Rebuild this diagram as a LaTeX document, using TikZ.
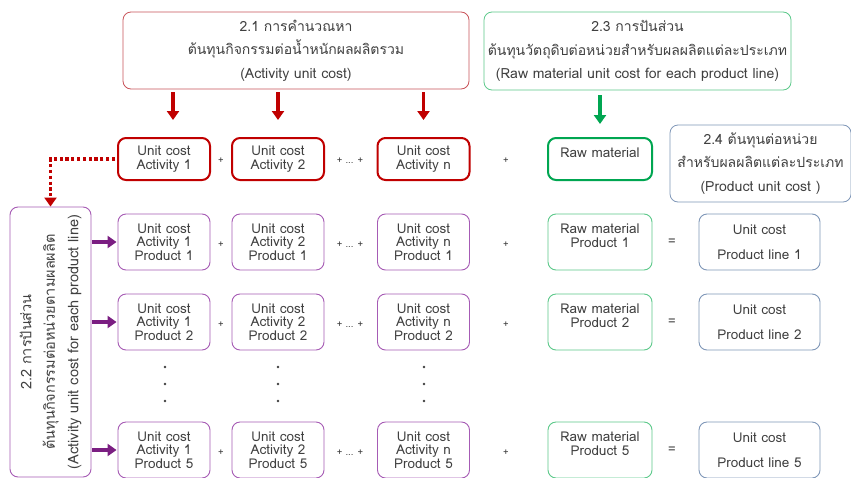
\documentclass[tikz,border=0pt]{standalone}
\usepackage{fontspec}
\setmainfont[Script=Thai]{Loma}
\usetikzlibrary{arrows.meta}
\definecolor{txt}{HTML}{404040}
\definecolor{redl}{HTML}{C9545A}
\definecolor{redd}{HTML}{C00000}
\definecolor{grd}{HTML}{00A651}
\definecolor{grl}{HTML}{5CC98A}
\definecolor{purp}{HTML}{A65BB5}
\definecolor{purd}{HTML}{7B1E82}
\definecolor{blg}{HTML}{7F97B8}
\begin{document}
\begin{tikzpicture}[x=1pt,y=-1pt,
  base/.style={rounded corners=8, align=center, text=txt, inner sep=0pt},
  topbox/.style={base, line width=0.8pt, font=\fontsize{14}{23.5}\selectfont},
  actbox/.style={base, draw=redd, line width=2pt, minimum width=92, minimum height=42, font=\fontsize{13.5}{14}\selectfont},
  rawbox/.style={base, draw=grd, line width=2pt, minimum width=104, minimum height=42, font=\fontsize{13.5}{14}\selectfont},
  prodbox/.style={base, draw=purp, line width=0.9pt, minimum width=92, minimum height=56, font=\fontsize{13.5}{13.6}\selectfont},
  rawpbox/.style={base, draw=grl, line width=0.9pt, minimum width=104, minimum height=56, font=\fontsize{13.5}{14.5}\selectfont},
  linebox/.style={base, draw=blg, line width=0.9pt, minimum width=121, minimum height=56, font=\fontsize{13.5}{25}\selectfont},
  op/.style={text=txt, font=\fontsize{9.5}{10}\selectfont, inner sep=0pt},
  redarr/.style={draw=redd, line width=3.5pt, -{Triangle[length=9pt,width=12pt]}},
  grnarr/.style={draw=grd, line width=3.5pt, -{Triangle[length=9pt,width=12pt]}},
  purarr/.style={draw=purd, line width=3.5pt, -{Triangle[length=9pt,width=12pt]}},
  dotarr/.style={draw=redd, line width=3.2pt, dash pattern=on 3.2pt off 2.6pt, -{Triangle[length=9pt,width=12pt]}},
  dotc/.style={fill=txt}
]
\useasboundingbox (0,0) rectangle (851,477);
\clip (0,0) rectangle (851,477);
\fill[white] (0,0) rectangle (851,477);

% top boxes
\node[topbox, draw=redl, minimum width=346, minimum height=77] (t21) at (296,50.5)
  {2.1 การคำนวณหา\\ต้นทุนกิจกรรมต่อน้ำหนักผลผลิตรวม\\(Activity unit cost)};
\node[topbox, draw=grl, minimum width=307, minimum height=78] (t23) at (637.5,51)
  {2.3 การปันส่วน\\ต้นทุนวัตถุดิบต่อหน่วยสำหรับผลผลิตแต่ละประเภท\\(Raw material unit cost for each product line)};
\node[topbox, draw=blg, minimum width=181, minimum height=77] (t24) at (760.5,163.5)
  {2.4 ต้นทุนต่อหน่วย\\สำหรับผลผลิตแต่ละประเภท\\(Product unit cost )};

% left box
\node[base, draw=purp, line width=0.9pt, minimum width=81, minimum height=270] (b22) at (50.5,342) {};
\node[rotate=90, align=center, text=txt, font=\fontsize{14.5}{23.5}\selectfont] (b22t) at (b22.center)
  {2.2 การปันส่วน\\ต้นทุนกิจกรรมต่อหน่วยตามผลผลิต\\(Activity unit cost for each product line)};

% row 1
\node[actbox] (a1) at (164,159) {Unit cost\\Activity 1};
\node[actbox] (a2) at (278,159) {Unit cost\\Activity 2};
\node[actbox] (an) at (423.5,159) {Unit cost\\Activity n};
\node[rawbox] (rm) at (600,159) {Raw material\\[-2pt]\mbox{}};
\node[op] (o11) at (221,161) {+};
\node[op] (o12) at (350,161) {+ ... +};
\node[op] (o13) at (506,161) {+};

% product rows
\foreach \r/\y in {1/242,2/322,5/450}{
  \node[prodbox] (p\r a) at (164,\y) {Unit cost\\Activity 1\\Product \r};
  \node[prodbox] (p\r b) at (278,\y) {Unit cost\\Activity 2\\Product \r};
  \node[prodbox] (p\r n) at (423.5,\y) {Unit cost\\Activity n\\Product \r};
  \node[rawpbox] (p\r r) at (600,\y) {Raw material\\Product \r\\[-2pt]\mbox{}};
  \node[linebox] (p\r l) at (759.5,\y) {Unit cost\\Product line \r};
  \node[op] (o\r a) at (221,\y+3) {+};
  \node[op] (o\r b) at (350,\y+3) {+ ... +};
  \node[op] (o\r c) at (506,\y+3) {+};
  \node[op, font=\fontsize{13}{13}\selectfont] (o\r d) at (672,\y) {=};
  \draw[purarr, shorten >=1pt, shorten <=1pt] (b22.east |- p\r a.west) -- (p\r a.west);
}

% vertical dots
\foreach \x in {165,278,424}{
  \foreach \yy in {367,384,401}{
    \fill[dotc] (\x,\yy) circle (1.4);
  }
}

% arrows
\draw[redarr, shorten <=3pt, shorten >=17pt] ([xshift=9pt]t21.south -| a1.north) -- ([xshift=9pt]a1.north);
\draw[redarr, shorten <=3pt, shorten >=17pt] (t21.south -| a2.north) -- (a2.north);
\draw[redarr, shorten <=3pt, shorten >=17pt] (t21.south -| an.north) -- (an.north);
\draw[grnarr, shorten <=5pt, shorten >=13pt] (t23.south -| rm.north) -- (rm.north);
\draw[dotarr, shorten <=2pt] (a1.west) -| (b22.north);
\end{tikzpicture}
\end{document}
